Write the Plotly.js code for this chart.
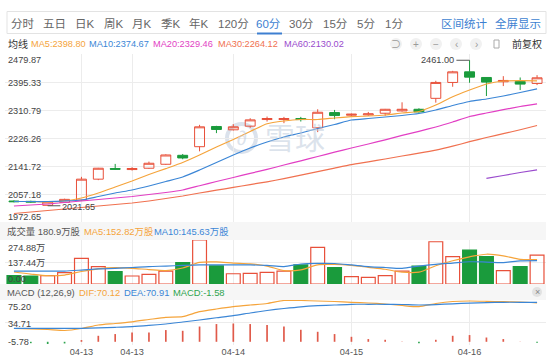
<!DOCTYPE html>
<html><head><meta charset="utf-8">
<script src="https://cdn.plot.ly/plotly-3.0.1.min.js"></script>
<style>html,body{margin:0;padding:0;background:#fff;overflow:hidden}#chart{width:554px;height:363px}</style>
</head><body><div id="chart"></div>
<script>
// ---------- data ----------
const tickIdx  = [4, 7, 13, 20, 27];
const tickText = ['04-13', '04-13', '04-14', '04-15', '04-16'];

const opens  = [2036,2035,2023,2032,2039,2102,2134,2131,2135,2147,2174,2200,2261,2251,2262,2282,2282,2285,2257,2303,2295,2296,2301,2308,2313,2346,2394,2426,2409,2396,2397,2391];
const highs  = [2038,2037,2034,2043,2109,2136,2148,2138,2155,2177,2178,2266,2263,2268,2286,2291,2290,2290,2313,2311,2300,2305,2314,2334,2316,2399,2429,2461,2409,2413,2409,2416];
const lows   = [2032,2031,2021.65,2030,2037,2099,2131,2128,2133,2145,2162,2186,2241,2249,2257,2276,2271,2276,2244,2283,2292,2293,2293,2306,2303,2333,2381,2393,2353,2383,2371,2386];
const closes = [2034,2033,2033,2041,2102,2135,2132,2134,2150,2175,2166,2260,2252,2260,2281,2285,2285,2282,2304,2294,2298,2299,2313,2313,2305,2394,2426,2410,2395,2400,2389,2408];

const ma5  = [2034.5,2034.5,2033.0,2036.1,2045.1,2060.2,2078.3,2096.4,2116.1,2133.9,2152.3,2174.9,2199.1,2221.7,2245.9,2269.4,2277.6,2282.1,2282.1,2286.6,2290.6,2292.7,2295.7,2301.7,2306.3,2325.9,2351.0,2371.2,2389.3,2398.4,2399.3,2398.80];
const ma10 = [2034.5,2034.5,2034.5,2036.1,2039.1,2049.6,2060.2,2069.3,2081.3,2094.9,2108.5,2129.6,2152.3,2174.9,2196.1,2214.2,2229.3,2241.4,2254.9,2267.0,2280.6,2285.1,2289.7,2294.2,2300.2,2310.8,2324.4,2336.5,2344.0,2353.1,2363.6,2374.67];
const ma20 = [2020.9,2024.0,2027.0,2031.5,2036.1,2040.6,2045.1,2049.6,2055.7,2061.7,2069.3,2082.2,2094.9,2107.0,2119.4,2131.5,2144.7,2157.4,2170.4,2183.4,2196.1,2208.2,2220.8,2234.1,2246.5,2259.5,2274.6,2291.2,2301.7,2311.7,2321.4,2329.46];
const ma30 = [1998.3,2002.8,2007.4,2011.9,2016.4,2020.9,2025.5,2030.0,2036.1,2043.6,2051.2,2060.2,2068.7,2077.1,2085.6,2094.0,2103.4,2114.0,2124.5,2135.1,2145.7,2154.1,2162.9,2171.9,2180.4,2189.7,2201.5,2215.1,2227.8,2239.2,2251.3,2264.12];
const ma60 = [null,null,null,null,null,null,null,null,null,null,null,null,null,null,null,null,null,null,null,null,null,null,null,null,null,null,null,null,2104.6,2113.0,2122.1,2130.02];

const volume = [52,50,52,71,160,108,77,50,60,81,133,274.88,114,64,67,73,81,119,229,102,46,42,52,81,112,264,171,212,171,83,108,180.9];
const volMa5  = [75,62,52,56,78,95,102,98,90,84,100,135,138,131,126,112,84,88,120,122,116,104,92,74,74,114,145,170,186,176,154,152.82];
const volMa10 = [81,81,81,81,87,94,98,103,109,112,116,119,119,119,119,116,109,125,129,128,119,109,103,98,112,123,131,139,137,134,144,145.63];

const dif  = [23.9,23.0,22.1,20.3,23.9,30.2,32.9,36.0,40.1,44.1,45.2,54.2,59.0,63.2,66.2,68.9,74.3,74.3,73.4,72.5,71.1,69.8,68.0,65.3,63.2,68.9,72.5,73.4,72.9,72.2,71.6,70.12];
const dea  = [24.3,24.3,24.3,24.3,24.3,25.2,26.1,27.2,29.4,32.0,35.6,39.2,43.2,47.0,51.8,56.3,59.9,63.0,65.0,66.2,67.5,67.5,67.5,67.1,66.2,66.9,68.4,69.5,70.5,71.1,71.1,70.91];
const macd = [-1,-2.5,-4,-3,3.1,10.8,13.9,16.7,16.7,21.1,19.8,27.5,31.9,32.9,31.9,30.1,27.5,21.6,18.0,13.9,9.0,4.9,3.6,0.5,-2.5,3.6,10.8,12.1,7.7,4.9,0.3,-1.58];

const mainTicks = [2479.87, 2395.33, 2310.79, 2226.26, 2141.72, 2057.18, 1972.65];
const volTicks  = [274.88, 137.44, 0];
const volTickText = ['274.88万', '137.44万', '0.00'];
const macdTicks = [75.20, 34.71, -5.78];

const tabs = ['分时','五日','日K','周K','月K','季K','年K','120分','60分','30分','15分','5分','1分'];
const activeTab = '60分';
const maNames = ['MA5','MA10','MA20','MA30','MA60'];

// ---------- styling / layout helpers ----------
const W = 554, H = 363;
const PX = x => x / W, PY = y => 1 - y / H;
const FONT = 'Arial, "Liberation Sans", "Noto Sans CJK SC", sans-serif';
const RED = '#e8503a', GREEN = '#1a9b3c', GRID = '#ececec';
const maColors = ['#f5a43b', '#3b86d6', '#e23fc4', '#f07150', '#9a4bcd'];
const LBL = 9.2;
const idx = closes.map((_, i) => i);
const isUp = closes.map((c, i) => c >= opens[i]);

const traces = [];
traces.push({
  type: 'candlestick', x: idx, open: opens, high: highs, low: lows, close: closes,
  xaxis: 'x', yaxis: 'y', whiskerwidth: 0, hoverinfo: 'skip',
  increasing: {line: {color: RED, width: 1}, fillcolor: 'rgba(255,255,255,0)'},
  decreasing: {line: {color: GREEN, width: 1}, fillcolor: GREEN}
});
[ma5, ma10, ma20, ma30, ma60].forEach((arr, k) => traces.push({
  type: 'scatter', mode: 'lines', x: idx, y: arr, xaxis: 'x', yaxis: 'y',
  line: {color: maColors[k], width: 1.2, shape: 'spline', smoothing: 0.5}, hoverinfo: 'skip'
}));
traces.push({
  type: 'bar', x: idx, y: volume, xaxis: 'x2', yaxis: 'y2', width: 0.82, hoverinfo: 'skip',
  marker: {color: isUp.map(u => u ? 'rgba(255,255,255,0)' : GREEN),
           line: {color: isUp.map(u => u ? RED : GREEN), width: 1.2}}
});
traces.push({type:'scatter', mode:'lines', x: idx, y: volMa5, xaxis:'x2', yaxis:'y2',
  line:{color: maColors[0], width:1.2, shape:'spline', smoothing:0.8}, hoverinfo:'skip'});
traces.push({type:'scatter', mode:'lines', x: idx, y: volMa10, xaxis:'x2', yaxis:'y2',
  line:{color: maColors[1], width:1.2, shape:'spline', smoothing:0.8}, hoverinfo:'skip'});
traces.push({
  type: 'bar', x: idx, y: macd, xaxis: 'x3', yaxis: 'y3', width: 0.1, hoverinfo: 'skip',
  marker: {color: macd.map(v => v >= 0 ? '#e05a4a' : '#2ea44f'), line: {width: 0}}
});
traces.push({type:'scatter', mode:'lines', x: idx, y: dif, xaxis:'x3', yaxis:'y3',
  line:{color: maColors[0], width:1.2, shape:'spline', smoothing:0.6}, hoverinfo:'skip'});
traces.push({type:'scatter', mode:'lines', x: idx, y: dea, xaxis:'x3', yaxis:'y3',
  line:{color: maColors[1], width:1.2, shape:'spline', smoothing:0.6}, hoverinfo:'skip'});

const xBase = {domain: [PX(5), PX(546)], range: [-0.53, 31.53], tickvals: tickIdx, ticktext: tickText,
  showticklabels: false, ticks: '', showgrid: true, gridcolor: GRID, zeroline: false, fixedrange: true,
  showline: false};
const yBase = {showticklabels: false, ticks: '', showgrid: true, gridcolor: GRID, zeroline: false, fixedrange: true};

const ann = [];
const shapes = [];
const txt = (text, x, y, color, size, anchor, extra) => ann.push(Object.assign({
  text, xref: 'paper', yref: 'paper', x: PX(x), y: PY(y), xanchor: anchor || 'left', yanchor: 'middle',
  showarrow: false, font: {family: FONT, size: size || 10, color: color || '#333'}
}, extra || {}));

// tab bar
shapes.push({type:'rect', xref:'paper', yref:'paper', x0:PX(7), x1:PX(546), y0:PY(33.5), y1:PY(11.5),
  line:{color:'#e3e3e3', width:1}, fillcolor:'#fff', layer:'below'});
const tabX = [22.5,54,85,113.5,142,171,199,233,268.5,301,335.5,365.5,393.5];
tabs.forEach((t, i) => txt(t, tabX[i], 23.5, t === activeTab ? '#3d7fd1' : '#666', 11.5, 'center'));
shapes.push({type:'line', xref:'paper', yref:'paper', x0:PX(257), x1:PX(282), y0:PY(33.5), y1:PY(33.5),
  line:{color:'#3d7fd1', width:2}});
txt('区间统计', 464.5, 23.5, '#3d7fd1', 11.5, 'center');
txt('全屏显示', 518, 23.5, '#3d7fd1', 11.5, 'center');

// MA legend row
txt('均线', 6, 44, '#333', 10);
const maArrs = [ma5, ma10, ma20, ma30, ma60];
const maX = [29, 87, 151, 216, 282];
maNames.forEach((n, k) => txt(n + ':' + maArrs[k][maArrs[k].length - 1].toFixed(2), maX[k], 44, maColors[k], 9.2));
const iconX = [396, 416, 436, 456, 476];
const iconG = ['⊃', '+', '−', '‹', '›'];
iconX.forEach((x, i) => {
  shapes.push({type:'circle', xref:'paper', yref:'paper', x0:PX(x-6), x1:PX(x+6), y0:PY(50), y1:PY(38),
    fillcolor:'#f1f1f1', line:{width:0}});
  txt(iconG[i], x, 44, '#9a9a9a', 10, 'center');
});
shapes.push({type:'rect', xref:'paper', yref:'paper', x0:PX(494), x1:PX(499), y0:PY(48), y1:PY(40),
  fillcolor:'#fff', line:{color:'#aaa', width:1}});
txt('前复权', 510, 44, '#333', 10);

// main-axis labels
mainTicks.forEach((v, i) => ann.push({text: v.toFixed(2), xref:'paper', yref:'y', x: PX(6), y: v,
  xanchor:'left', yanchor:'middle', showarrow:false, yshift: i === 0 ? -6 : (i === mainTicks.length-1 ? 5 : -1),
  font:{family:FONT, size:LBL, color:'#444'}}));

// high / low markers
const hiIdx = highs.indexOf(Math.max(...highs));
const loIdx = lows.indexOf(Math.min(...lows));
shapes.push({type:'line', xref:'x', yref:'y', x0: hiIdx - 0.78, x1: hiIdx, y0: highs[hiIdx], y1: highs[hiIdx],
  line:{color:'#555', width:1}});
ann.push({text: highs[hiIdx].toFixed(2), xref:'x', yref:'y', x: hiIdx - 0.78, y: highs[hiIdx], xanchor:'right',
  yanchor:'middle', showarrow:false, font:{family:FONT, size:LBL, color:'#444'}});
shapes.push({type:'line', xref:'x', yref:'y', x0: loIdx, x1: loIdx + 0.75, y0: lows[loIdx], y1: lows[loIdx],
  line:{color:'#555', width:1}});
ann.push({text: lows[loIdx].toFixed(2), xref:'x', yref:'y', x: loIdx + 0.75, y: lows[loIdx], xanchor:'left',
  yanchor:'middle', yshift:-1, showarrow:false, font:{family:FONT, size:LBL, color:'#444'}});

// watermark
shapes.push({type:'circle', xref:'paper', yref:'paper', x0:PX(227), x1:PX(256), y0:PY(152), y1:PY(124),
  line:{color:'rgba(190,203,220,0.55)', width:4}, layer:'below'});
txt('∂', 241.5, 138, 'rgba(190,203,220,0.55)', 20, 'center');
txt('雪球', 295, 138, 'rgba(190,203,220,0.55)', 30, 'center');

// volume header band
shapes.push({type:'rect', xref:'paper', yref:'paper', x0:0, x1:PX(546), y0:PY(240), y1:PY(222),
  fillcolor:'#f6f6f6', line:{width:0}, layer:'below'});
txt('成交量 ' + volume[volume.length-1].toFixed(1) + '万股', 5, 231.5, '#555', 9.4);
txt('MA5:' + volMa5[volMa5.length-1].toFixed(2) + '万股', 82, 231.5, maColors[0], 9.4);
txt('MA10:' + volMa10[volMa10.length-1].toFixed(2) + '万股', 152, 231.5, maColors[1], 9.4);
volTicks.forEach((v, i) => ann.push({text: volTickText[i], xref:'paper', yref:'y2', x: PX(6), y: v,
  xanchor:'left', yanchor:'middle', showarrow:false, yshift: i === 0 ? -7.5 : (i === volTicks.length-1 ? 5.5 : -1),
  font:{family:FONT, size:LBL, color:'#444'}}));

// MACD header band
shapes.push({type:'rect', xref:'paper', yref:'paper', x0:0, x1:PX(546), y0:PY(300), y1:PY(284),
  fillcolor:'#f6f6f6', line:{width:0}, layer:'below'});
txt('MACD (12,26,9)', 5, 292, '#555', 9.4);
txt('DIF:' + dif[dif.length-1].toFixed(2), 77, 292, maColors[0], 9.4);
txt('DEA:' + dea[dea.length-1].toFixed(2), 122, 292, maColors[1], 9.4);
txt('MACD:' + macd[macd.length-1].toFixed(2), 171, 292, '#2ea44f', 9.4);
shapes.push({type:'circle', xref:'paper', yref:'paper', x0:PX(532), x1:PX(542), y0:PY(297), y1:PY(287),
  fillcolor:'#e2e2e2', line:{width:0}});
txt('×', 537, 291.5, '#888', 9, 'center');
macdTicks.forEach((v, i) => ann.push({text: v.toFixed(2), xref:'paper', yref:'y3', x: PX(6), y: v,
  xanchor:'left', yanchor:'middle', showarrow:false, yshift: i === 0 ? -6.5 : (i === macdTicks.length-1 ? 3.5 : -1),
  font:{family:FONT, size:LBL, color:'#444'}}));

const layout = {
  width: W, height: H, margin: {l:0, r:0, t:0, b:0, pad:0},
  paper_bgcolor: '#fff', plot_bgcolor: 'rgba(0,0,0,0)', showlegend: false, hovermode: false, dragmode: false,
  boxgap: 0.16,
  font: {family: FONT, size: 10, color: '#444'},
  xaxis:  Object.assign({}, xBase, {anchor:'y', rangeslider:{visible:false}}),
  xaxis2: Object.assign({}, xBase, {anchor:'y2'}),
  xaxis3: Object.assign({}, xBase, {anchor:'y3', showticklabels:true, tickfont:{family:FONT, size:LBL, color:'#555'}}),
  yaxis:  Object.assign({}, yBase, {domain:[PY(222), PY(54)], range:[mainTicks[6], mainTicks[0]], tickvals: mainTicks}),
  yaxis2: Object.assign({}, yBase, {domain:[PY(284), PY(240)], range:[0, volTicks[0]], tickvals: volTicks}),
  yaxis3: Object.assign({}, yBase, {domain:[PY(345), PY(300)], range:[macdTicks[2], macdTicks[0]], tickvals: macdTicks}),
  annotations: ann, shapes: shapes
};
Plotly.newPlot('chart', traces, layout, {staticPlot: true, displayModeBar: false});
</script></body></html>
